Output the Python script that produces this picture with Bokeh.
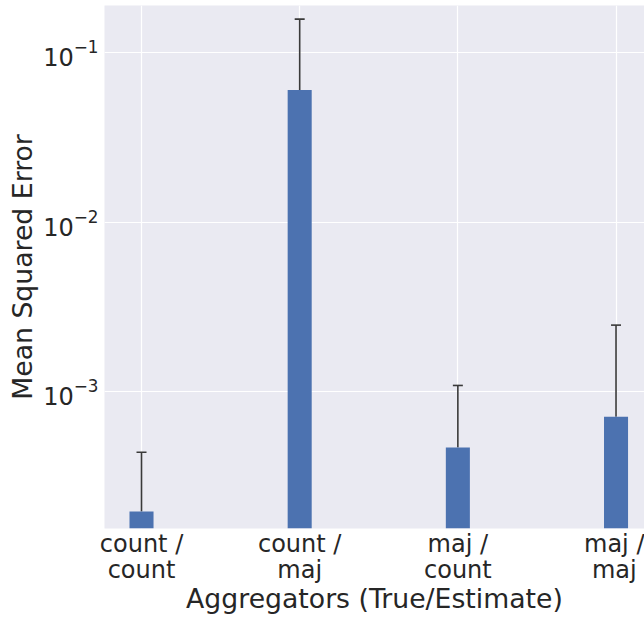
from bokeh.plotting import figure
from bokeh.models import Range1d, FixedTicker, LogTicker, ColumnDataSource
from bokeh.embed import file_html
from bokeh.resources import INLINE

categories = ["count /\ncount", "count /\nmaj", "maj /\ncount", "maj /\nmaj"]
mse_mean = [1.97e-4, 0.0601, 4.69e-4, 7.13e-4]
mse_err = [2.43e-4, 0.0969, 6.2e-4, 1.757e-3]

xs = list(range(len(categories)))
upper = [m + e for m, e in zip(mse_mean, mse_err)]

p = figure(width=644, height=617, y_axis_type="log",
           x_range=Range1d(-0.234, 3.18), y_range=Range1d(1.563e-4, 0.189),
           output_backend="svg", toolbar_location=None,
           min_border_left=104, min_border_right=0, min_border_top=5, min_border_bottom=88)
p.border_fill_color = "white"
p.background_fill_color = "#EAEAF2"
p.outline_line_color = None

src = ColumnDataSource(dict(x=xs, top=mse_mean, upper=upper, bottom=[1e-6] * 4))

p.segment(x0="x", y0="top", x1="x", y1="upper", source=src, line_color="#3a3a3a", line_width=1.6)
p.scatter(x="x", y="upper", source=src, marker="dash", size=10, line_color="#3a3a3a", line_width=1.6)
p.vbar(x="x", top="top", bottom="bottom", width=0.152, source=src, fill_color="#4C72B0", line_color=None)

p.xaxis.ticker = FixedTicker(ticks=xs)
p.xaxis.major_label_overrides = {i: c for i, c in enumerate(categories)}
p.yaxis.ticker = LogTicker(desired_num_ticks=4)

for ax in (p.xaxis[0], p.yaxis[0]):
    ax.axis_line_color = None
    ax.major_tick_line_color = None
    ax.minor_tick_line_color = None
    ax.major_tick_out = 0
    ax.major_tick_in = 0
    ax.minor_tick_out = 0
    ax.minor_tick_in = 0
    ax.major_label_text_font = "DejaVu Sans"
    ax.major_label_text_font_size = "24px"
    ax.major_label_text_color = "#262626"
    ax.axis_label_text_font = "DejaVu Sans"
    ax.axis_label_text_font_size = "26.7px"
    ax.axis_label_text_font_style = "normal"
    ax.axis_label_text_color = "#262626"

p.xaxis.major_label_text_line_height = 0.95
p.xaxis.axis_label = "Aggregators (True/Estimate)"
p.yaxis.axis_label = "Mean Squared Error"
p.xaxis.major_label_standoff = 1
p.yaxis.major_label_standoff = 6
p.xaxis.axis_label_standoff = -4
p.yaxis.axis_label_standoff = 2

p.xgrid.grid_line_color = "white"
p.ygrid.grid_line_color = "white"
p.xgrid.grid_line_width = 1.2
p.ygrid.grid_line_width = 1.2
p.ygrid.minor_grid_line_color = None

open("out.html", "w").write(file_html(p, INLINE))
